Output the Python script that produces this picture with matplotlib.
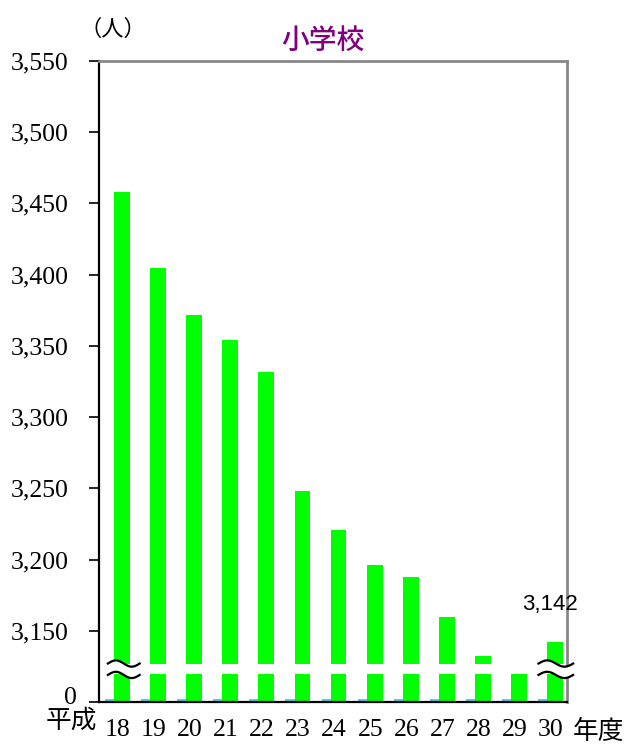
import numpy as np
import matplotlib.pyplot as plt
from matplotlib.transforms import ScaledTranslation

plt.rcParams['font.family'] = ['Noto Sans CJK JP', 'DejaVu Sans']

# data
years = ['18', '19', '20', '21', '22', '23', '24', '25', '26', '27', '28', '29', '30']
pupils = [3458, 3405, 3372, 3354, 3332, 3248, 3221, 3196, 3188, 3160, 3132, 3124, 3142]
zero_series = [0, 0, 0, 0, 0, 0, 0, 0, 0, 0, 0, 0, 0]
y_ticks = [3100, 3150, 3200, 3250, 3300, 3350, 3400, 3450, 3500, 3550]

ymin, ymax = 3100, 3550
green = '#00FF00'
cyan = '#44D4F0'

fig = plt.figure(figsize=(6.25, 7.49), dpi=100)
ax = fig.add_axes([99 / 625, 1 - 702 / 749, 468 / 625, 641 / 749])

x = np.arange(len(years))
bw = 0.44
ax.bar(x, np.array(pupils) - ymin, bottom=ymin, width=bw, color=green, zorder=2)
# zero-valued series shows as a thin stub at the baseline
ax.bar(x - bw / 2 - 0.25, np.array(zero_series) + 2, bottom=ymin, width=0.25,
       align='edge', color=cyan, zorder=2, lw=0)

# white gap across the bars for the axis break
ax.axhspan(3120, 3127, color='white', zorder=2.2, lw=0)

def axis_break(xc, half_w, y_hi, y_lo, amp):
    t = np.linspace(0, 1, 60)
    xs = xc - half_w + 2 * half_w * t
    wave = amp * np.sin(2 * np.pi * t)
    ax.fill_between(xs, y_lo + wave, y_hi + wave, color='white', zorder=3,
                    lw=0, clip_on=False)
    ax.plot(xs, y_hi + wave, color='black', lw=1.6, zorder=3.1, clip_on=False)
    ax.plot(xs, y_lo + wave, color='black', lw=1.6, zorder=3.1, clip_on=False)

axis_break(0.05, 0.44, 3127, 3119, 2.2)
axis_break(12.02, 0.48, 3127, 3119, 2.2)

ax.set_xlim(-0.637, 12.33)
ax.set_ylim(ymin, ymax)

ax.set_yticks(y_ticks)
ax.set_yticklabels(['0'] + [f'{v:,}' for v in y_ticks[1:]],
                   family=['Liberation Serif'], fontsize=18.5)
ax.set_xticks(x - 0.12)
ax.set_xticklabels(years, family=['Liberation Serif'], fontsize=18.5)
ax.tick_params(axis='y', direction='out', length=7, width=1.2, pad=15)
ax.tick_params(axis='x', length=0, pad=12)

# the "0" label sits a little right of and above the others
zero_lbl = ax.get_yticklabels()[0]
zero_lbl.set_transform(zero_lbl.get_transform()
                       + ScaledTranslation(8 / 100, 7 / 100, fig.dpi_scale_trans))

for side in ['left', 'bottom']:
    ax.spines[side].set_color('black')
    ax.spines[side].set_linewidth(1.6)
for side in ['top', 'right']:
    ax.spines[side].set_color('#888888')
    ax.spines[side].set_linewidth(2)

# labels
ax.text(x[-1] - 0.15, pupils[-1] + 19, f'{pupils[-1]:,}', ha='center', va='bottom',
        family=['Liberation Sans'], fontsize=16)
fig.text(323 / 625, 1 - 40 / 749, '小学校', color='#800080', fontsize=20,
         ha='center', va='center', fontweight='medium')
fig.text(113 / 625, 1 - 29 / 749, '（人）', fontsize=16, ha='center', va='center')
fig.text(71 / 625, 1 - 721 / 749, '平成', fontsize=18.5, ha='center', va='center')
fig.text(599 / 625, 1 - 732 / 749, '年度', fontsize=18.5, ha='center', va='center')

fig.savefig('out.png', dpi=100)
